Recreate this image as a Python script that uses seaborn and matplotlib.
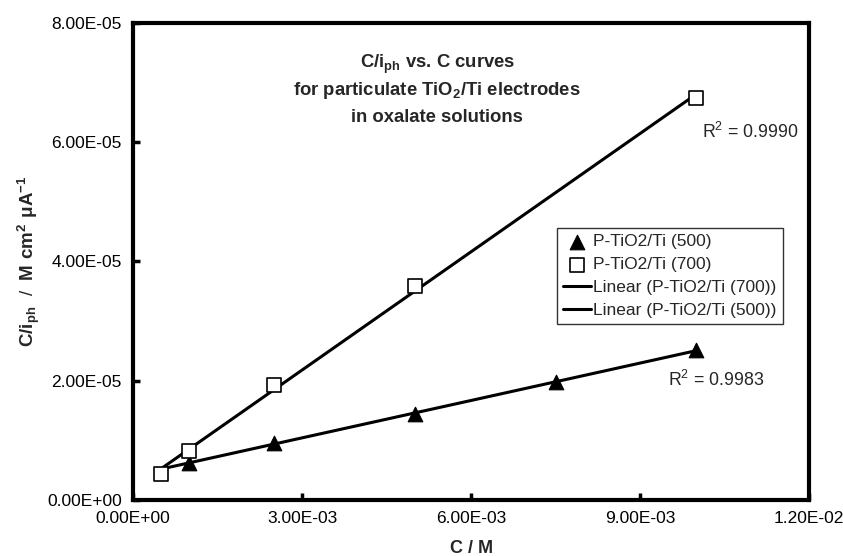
import numpy as np
import pandas as pd
import matplotlib
matplotlib.use("Agg")
import matplotlib.pyplot as plt
import seaborn as sns
from matplotlib.ticker import FuncFormatter, MultipleLocator

sns.set_theme(style="white")
plt.rcParams['font.family'] = ['Liberation Sans', 'DejaVu Sans']
plt.rcParams['mathtext.fontset'] = 'custom'
plt.rcParams['mathtext.rm'] = 'Liberation Sans'
plt.rcParams['mathtext.bf'] = 'Liberation Sans:bold'

# Data
conc_500 = [0.001, 0.0025, 0.005, 0.0075, 0.01]
ratio_500 = [6.2e-6, 9.5e-6, 14.5e-6, 19.8e-6, 25.1e-6]
conc_700 = [0.0005, 0.001, 0.0025, 0.005, 0.01]
ratio_700 = [4.4e-6, 8.3e-6, 19.3e-6, 35.9e-6, 67.5e-6]
r2_500 = "0.9983"
r2_700 = "0.9990"
label_500 = "P-TiO2/Ti (500)"
label_700 = "P-TiO2/Ti (700)"
fit_label_500 = "Linear (P-TiO2/Ti (500))"
fit_label_700 = "Linear (P-TiO2/Ti (700))"
title_lines = [r"$\mathbf{C/i_{ph}}$ vs. C curves",
               r"for particulate TiO$\mathbf{_2}$/Ti electrodes",
               "in oxalate solutions"]

df500 = pd.DataFrame({"C": conc_500, "R": ratio_500})
df700 = pd.DataFrame({"C": conc_700, "R": ratio_700})

# Linear trendlines over the concentration range
x_fit = np.array([min(conc_500 + conc_700), max(conc_500 + conc_700)])
p500 = np.polyfit(conc_500, ratio_500, 1)
p700 = np.polyfit(conc_700, ratio_700, 1)
fit500 = pd.DataFrame({"C": x_fit, "R": np.polyval(p500, x_fit)})
fit700 = pd.DataFrame({"C": x_fit, "R": np.polyval(p700, x_fit)})

fig = plt.figure(figsize=(8.43, 5.56), dpi=100)
ax = fig.add_axes([0.1578, 0.1007, 0.802, 0.858])

sns.lineplot(data=fit700, x="C", y="R", ax=ax, color="black", lw=2.2,
             label=fit_label_700, zorder=2)
sns.lineplot(data=fit500, x="C", y="R", ax=ax, color="black", lw=2.2,
             label=fit_label_500, zorder=2)
sns.scatterplot(data=df500, x="C", y="R", ax=ax, marker="^", s=110,
                color="black", edgecolor="black", label=label_500, zorder=3)
sns.scatterplot(data=df700, x="C", y="R", ax=ax, marker="s", s=110,
                facecolor="white", edgecolor="black", linewidth=1.2,
                label=label_700, zorder=4)

ax.set_xlim(0, 0.012)
ax.set_ylim(0, 8e-5)
ax.xaxis.set_major_locator(MultipleLocator(0.003))
ax.yaxis.set_major_locator(MultipleLocator(2e-5))
fmt = FuncFormatter(lambda v, pos: "{:.2E}".format(v))
ax.xaxis.set_major_formatter(fmt)
ax.yaxis.set_major_formatter(fmt)
ax.tick_params(direction="in", length=5, width=2.5, labelsize=12.5,
               colors="black", pad=8, top=False, right=False,
               left=True, bottom=True)

for s in ax.spines.values():
    s.set_color("black")
    s.set_linewidth(3)

ax.set_xlabel("C / M", fontsize=13, fontweight="bold", labelpad=10)
ax.set_ylabel(r"$\mathbf{C/i_{ph}}$  /  $\mathbf{M\ cm^{2}\ \mu A^{-1}}$",
              fontsize=13.5, labelpad=4)

# title block, one text per line
for txt, yv in zip(title_lines, [7.31e-5, 6.86e-5, 6.41e-5]):
    ax.text(0.0054, yv, txt, ha="center", va="center", fontsize=13.3,
            fontweight="bold")

ax.text(0.0101, 6.17e-5, "R$^2$ = " + r2_700, fontsize=12.8, va="center")
ax.text(0.0095, 2.01e-5, "R$^2$ = " + r2_500, fontsize=12.8, va="center")

handles, labels = ax.get_legend_handles_labels()
order = [labels.index(label_500), labels.index(label_700),
         labels.index(fit_label_700), labels.index(fit_label_500)]
leg = ax.legend([handles[i] for i in order], [labels[i] for i in order],
                loc="upper left", bbox_to_anchor=(0.627, 0.570),
                fontsize=12.5, frameon=True, fancybox=False,
                borderpad=0.35, labelspacing=0.45, handlelength=1.6,
                handletextpad=0.15, borderaxespad=0)
leg.get_frame().set_edgecolor("black")
leg.get_frame().set_linewidth(1.0)

fig.savefig("out.png", dpi=100)
